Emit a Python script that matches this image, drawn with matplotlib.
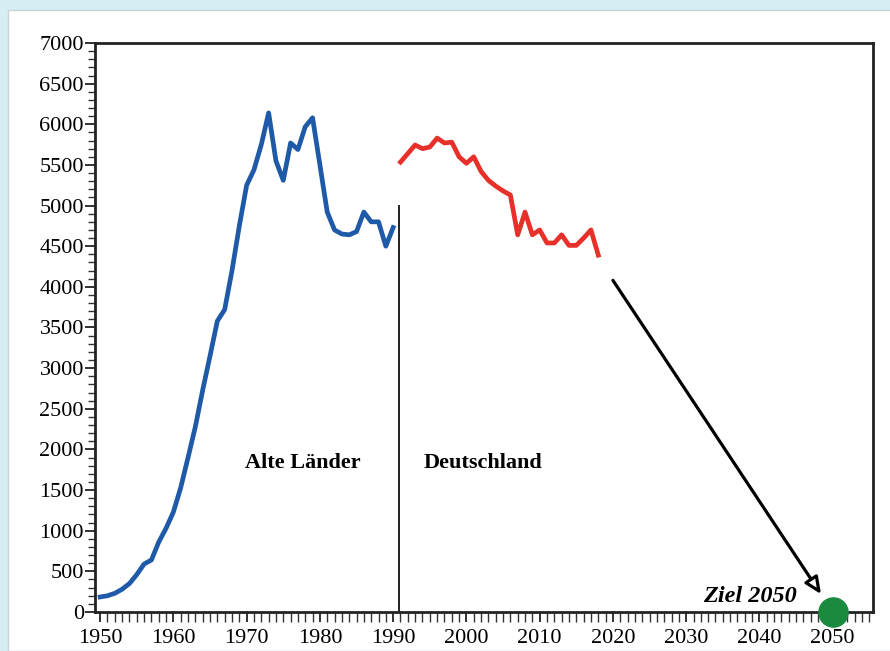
import numpy as np
import matplotlib
matplotlib.use('Agg')
import matplotlib.pyplot as plt
from matplotlib.patches import Rectangle
from matplotlib.ticker import MultipleLocator

# data
years_old = list(range(1950, 1991))
vals_old = [185, 200, 230, 280, 350, 460, 590, 640, 860, 1030,
            1230, 1530, 1900, 2280, 2730, 3150, 3580, 3720, 4200, 4750,
            5250, 5440, 5750, 6140, 5550, 5310, 5770, 5690, 5970, 6080,
            5500, 4920, 4700, 4650, 4640, 4680, 4920, 4800, 4800, 4500,
            4730]

years_de = list(range(1991, 2019))
vals_de = [5535, 5640, 5745, 5700, 5720, 5830, 5770, 5780, 5600, 5520,
           5600, 5420, 5310, 5240, 5180, 5130, 4640, 4920, 4640, 4700,
           4540, 4540, 4640, 4510, 4510, 4600, 4700, 4390]

target_year = 2050
target_val = 0
arrow_start = (2020.0, 4080)
arrow_end = (2048.4, 220)
split_year = 1990.8
split_top = 5000

fig = plt.figure(figsize=(8.9, 6.51), dpi=100)
fig.patch.set_facecolor('#d6edf4')
# white panel behind the axes
fig.patches.append(Rectangle((8 / 890, 0), 1, 1 - 10 / 651, transform=fig.transFigure,
                             facecolor='white', edgecolor='#c8d4da', lw=1.0, zorder=-10))

ax = fig.add_axes([95 / 890, 1 - 612 / 651, (873 - 95) / 890, (612 - 43) / 651])
ax.set_facecolor('white')

ax.plot(years_old, vals_old, color='#1e5aa8', lw=3.4, solid_joinstyle='round', zorder=3)
ax.plot(years_de, vals_de, color='#e8302a', lw=3.4, solid_joinstyle='round', zorder=3)
ax.plot([split_year, split_year], [0, split_top], color='#222222', lw=1.4, zorder=2)

ax.annotate('', xy=arrow_end, xytext=arrow_start,
            arrowprops=dict(arrowstyle='-|>,head_length=1.0,head_width=0.45',
                            facecolor='white', edgecolor='black', lw=2.3,
                            shrinkA=0, shrinkB=0))
ax.plot([target_year], [target_val], 'o', color='#1a8a3e', ms=21, clip_on=False, zorder=5)

serif = ['Liberation Serif', 'DejaVu Serif']
ax.text(1977.7, 1830, 'Alte Länder', family=serif, fontweight='bold', fontsize=16,
        ha='center', va='center')
ax.text(1994.1, 1830, 'Deutschland', family=serif, fontweight='bold', fontsize=16,
        ha='left', va='center')
ax.text(2045.1, 190, 'Ziel 2050', family=serif, fontweight='bold', style='italic',
        fontsize=17.5, ha='right', va='center')

ax.set_xlim(1949.3, 2055.5)
ax.set_ylim(0, 7000)
ax.xaxis.set_major_locator(MultipleLocator(10))
ax.xaxis.set_minor_locator(MultipleLocator(1))
ax.yaxis.set_major_locator(MultipleLocator(500))
ax.yaxis.set_minor_locator(MultipleLocator(100))
ax.tick_params(which='both', direction='out', color='#333333', labelsize=16)
ax.tick_params(which='major', length=7, width=1.4)
ax.tick_params(which='minor', length=5, width=1.0)
ax.tick_params(axis='x', which='minor', length=7)
ax.tick_params(axis='x', which='major', pad=5)
ax.tick_params(axis='y', which='major', pad=1)
for lab in ax.get_xticklabels() + ax.get_yticklabels():
    lab.set_family(serif)
for s in ax.spines.values():
    s.set_linewidth(2.0)
    s.set_color('#222222')

fig.savefig('out.png', dpi=100, facecolor=fig.get_facecolor())
